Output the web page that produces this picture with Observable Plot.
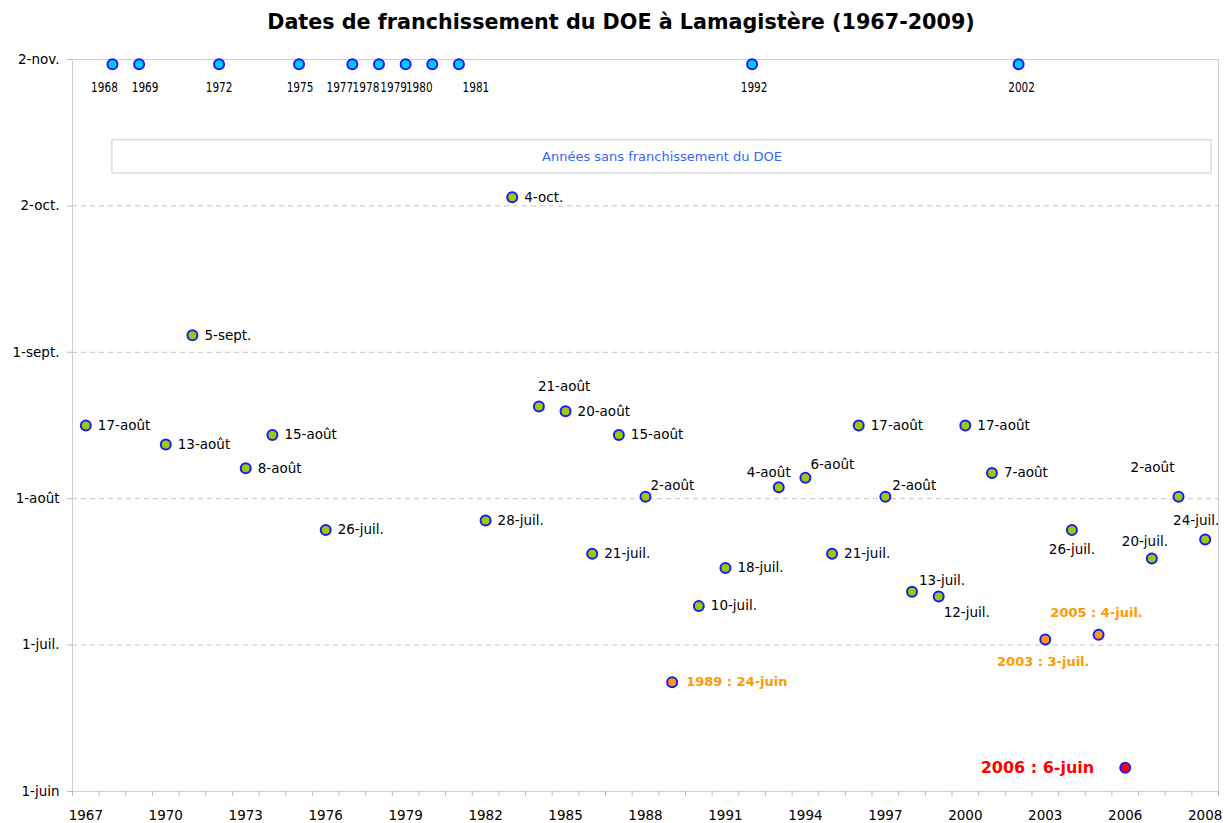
<!DOCTYPE html>
<html><head><meta charset="utf-8">
<script src="https://cdn.jsdelivr.net/npm/d3@7"></script>
<script src="https://cdn.jsdelivr.net/npm/@observablehq/plot@0.6"></script>
<style>
html,body{margin:0;padding:0;background:#fff;}
#title{height:44px;line-height:44px;font-family:"DejaVu Sans";font-weight:bold;font-size:20.7px;text-align:center;padding-left:18px;color:#000;width:1224px;box-sizing:border-box;}
#chart svg{display:block;}
</style></head><body>
<div id="title">Dates de franchissement du DOE à Lamagistère (1967-2009)</div>
<div id="chart"></div>
<script>
// ---- Data ----
const crossingYears = [1967,1970,1971,1973,1974,1976,1982,1983,1984,1985,1986,1987,1988,1989,1990,1991,1993,1994,1995,1996,1997,1998,1999,2000,2001,2003,2004,2005,2006,2007,2008,2009];
const crossingDates = ["08-17","08-13","09-05","08-08","08-15","07-26","07-28","10-04","08-21","08-20","07-21","08-15","08-02","06-24","07-10","07-18","08-04","08-06","07-21","08-17","08-02","07-13","07-12","08-17","08-07","07-03","07-26","07-04","06-06","07-20","08-02","07-24"];
const noCrossingYears = [1968,1969,1972,1975,1977,1978,1979,1980,1981,1992,2002];
const noCrossingDate = "11-01";
const earlyYears = [1989, 2003, 2005];
const earliestYear = 2006;
const monthNames = {6:"juin",7:"juil.",8:"août",9:"sept.",10:"oct.",11:"nov."};
const yTickLabels = ["1-juin","1-juil.","1-août","1-sept.","2-oct.","2-nov."];
const yAxisStart = "06-01", yAxisEnd = "11-02";
const xTickYears = [1967,1970,1973,1976,1979,1982,1985,1988,1991,1994,1997,2000,2003,2006,2009];
const xTickLabels = ["1967","1970","1973","1976","1979","1982","1985","1988","1991","1994","1997","2000","2003","2006","2008"];
const categoryYears = [1967,1968,1969,1970,1971,1972,1973,1974,1975,1976,1977,1978,1979,1980,1981,1982,1983,1984,1985,1986,1987,1988,1989,1990,1991,1992,1993,1994,1995,1996,1997,1998,1999,2000,2001,2002,2003,2004,2005,2006,2007,2008,2009];
const boxLabel = "Années sans franchissement du DOE";

// ---- Helpers ----
function dayOffset(md) {
  const [m, d] = md.split("-").map(Number);
  return d3.utcDay.count(new Date(Date.UTC(2001, 5, 1)), new Date(Date.UTC(2001, m - 1, d)));
}
function frLabel(md) {
  const [m, d] = md.split("-").map(Number);
  return `${d}-${monthNames[m]}`;
}
const yMax = dayOffset(yAxisEnd) - dayOffset(yAxisStart);
const yTicks = yTickLabels.map((_, i) => i * yMax / (yTickLabels.length - 1));
const boundaries = [categoryYears[0] - 0.5, ...categoryYears.map(y => y + 0.5)];

const rows = crossingYears.map((year, i) => {
  const kind = year === earliestYear ? "red" : earlyYears.includes(year) ? "orange" : "green";
  const base = frLabel(crossingDates[i]);
  return {year, day: dayOffset(crossingDates[i]), kind,
          label: kind === "green" ? base : `${year} : ${base}`};
});
const dryRows = noCrossingYears.map(year => ({year, day: dayOffset(noCrossingDate)}));

const box = [{x1: noCrossingYears[0], x2: categoryYears[categoryYears.length-1] + 0.24,
              y1: dayOffset("10-09"), y2: dayOffset("10-16")}];

// ---- Label placement (layout only) ----
const placement = {
  1984:{a:"start", dx:-1, dy:-20},
  1988:{a:"start", dx:5, dy:-11},
  1993:{a:"middle", dx:-10, dy:-15},
  1994:{a:"start", dx:5, dy:-13},
  1997:{a:"start", dx:7, dy:-11},
  1998:{a:"start", dx:7, dy:-11},
  1999:{a:"start", dx:5, dy:16},
  2003:{a:"middle", dx:-2, dy:22},
  2004:{a:"middle", dx:0, dy:20},
  2005:{a:"middle", dx:-2, dy:-22},
  2006:{a:"end", dx:-31, dy:0},
  2007:{a:"middle", dx:-7, dy:-17},
  2008:{a:"middle", dx:-26, dy:-29},
  2009:{a:"middle", dx:-9, dy:-19}
};
const dryShift = {1968:-8, 1969:6, 1975:1, 1977:-12.5, 1978:-13, 1979:-12, 1980:-13, 1981:17, 1992:2, 2002:3};
const DRY_FONT = 14.2;
const colors = {green:"#99cc00", orange:"#ff9900", red:"#ff0000"};
const textColors = {green:"#000000", orange:"#ff9900", red:"#ff0000"};
const textSize = {green:13.5, orange:13, red:16};
const textWeight = {green:"normal", orange:"bold", red:"bold"};

const labelMarks = rows.map(r => {
  const p = placement[r.year] || {a:"start", dx: r.kind === "orange" ? 14 : 12, dy:0};
  return Plot.text([r], {x:"year", y:"day", text:"label", textAnchor:p.a, dx:p.dx, dy:p.dy,
    fill:textColors[r.kind], fontSize:textSize[r.kind], fontWeight:textWeight[r.kind]});
});
const dryLabelMarks = dryRows.map(r => Plot.text([r], {x:"year", y:"day", text: d => String(d.year),
  dy:23, dx: dryShift[r.year] || 0, fontSize:DRY_FONT}));

const chart = Plot.plot({
  width: 1224, height: 779,
  marginLeft: 72, marginRight: 6, marginTop: 15, marginBottom: 32,
  style: {fontFamily: "DejaVu Sans", fontSize: "13px", color: "#000", background: "#fff"},
  x: {domain: [categoryYears[0] - 0.5, categoryYears[categoryYears.length-1] + 0.5]},
  y: {domain: [0, yMax]},
  marks: [
    Plot.gridY(yTicks.slice(1, -1), {stroke:"#c4c4c4", strokeOpacity:1, strokeDasharray:"5,4"}),
    Plot.frame({stroke:"#d0d0d0"}),
    Plot.axisY(yTicks, {tickSize:5, tickPadding:8, stroke:"#bbbbbb", fontSize:13.5,
      tickFormat: d => yTickLabels[yTicks.indexOf(d)], label:null}),
    Plot.axisX(boundaries, {tickSize:5, stroke:"#bbbbbb", tickFormat: () => "", label:null}),
    Plot.axisX(xTickYears, {tickSize:0, tickPadding:19, fontSize:13.5,
      tickFormat: d => xTickLabels[xTickYears.indexOf(d)], label:null}),
    Plot.rect(box, {x1:"x1", x2:"x2", y1:"y1", y2:"y2", fill:"#fff", stroke:"#cccccc"}),
    Plot.text(box, {x: d => (d.x1 + d.x2) / 2, y: d => (d.y1 + d.y2) / 2, text: () => boxLabel,
      fill:"#3366ff", fontSize:13}),
    Plot.dot(dryRows, {x:"year", y:"day", r:5, fill:"#00ccff", stroke:"#1a1aff", strokeWidth:2}),
    ...dryLabelMarks,
    Plot.dot(rows, {x:"year", y:"day", r:5, fill: d => colors[d.kind], stroke:"#1a1aff", strokeWidth:2}),
    ...labelMarks
  ]
});
// narrow glyphs for the crowded year labels (as in the reference)
d3.select(chart).selectAll("text").filter(function() {
  const g = this.closest("[font-size]");
  return g && Math.abs(parseFloat(g.getAttribute("font-size")) - DRY_FONT) < 0.01;
}).each(function() {
  const t = this.getAttribute("transform");
  if (t) {
    this.setAttribute("transform", t + " scale(0.74,1)");
  } else {
    const x = +this.getAttribute("x") || 0, y = +this.getAttribute("y") || 0;
    this.removeAttribute("x"); this.removeAttribute("y");
    this.setAttribute("transform", `translate(${x},${y}) scale(0.74,1)`);
  }
});
document.getElementById("chart").appendChild(chart);
</script>
</body></html>
